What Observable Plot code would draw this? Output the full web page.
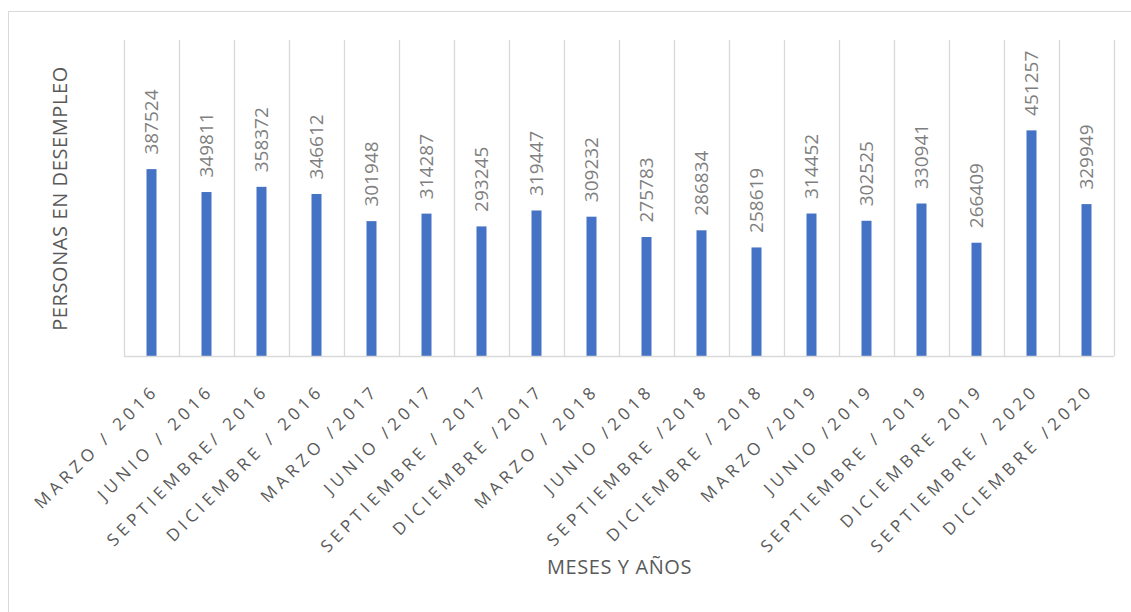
<!DOCTYPE html>
<html>
<head>
<meta charset="utf-8">
<script src="https://cdn.jsdelivr.net/npm/d3@7"></script>
<script src="https://cdn.jsdelivr.net/npm/@observablehq/plot@0.6"></script>
<style>
  html, body { margin: 0; padding: 0; background: #fff; }
  #wrap { position: relative; width: 1131px; height: 612px; overflow: hidden; }
  #frame { position: absolute; left: 8px; top: 11px; width: 1140px; height: 620px; border: 1px solid #d9d9d9; box-sizing: border-box; }
  #chart { position: absolute; left: 0; top: 0; }
</style>
</head>
<body>
<div id="wrap"><div id="frame"></div><div id="chart"></div></div>
<script>
const categories = ["MARZO / 2016","JUNIO / 2016","SEPTIEMBRE/ 2016","DICIEMBRE / 2016","MARZO /2017","JUNIO /2017","SEPTIEMBRE / 2017","DICIEMBRE /2017","MARZO / 2018","JUNIO /2018","SEPTIEMBRE /2018","DICIEMBRE / 2018","MARZO /2019","JUNIO /2019","SEPTIEMBRE / 2019","DICIEMBRE 2019","SEPTIEMBRE / 2020","DICIEMBRE /2020"];
const values = [387524,349811,358372,346612,301948,314287,293245,319447,309232,275783,286834,258619,314452,302525,330941,266409,451257,329949];
const yTitle = "PERSONAS EN DESEMPLEO";
const xTitle = "MESES Y AÑOS";
const yDomain = [80000, 600000];

const data = categories.map((c, i) => ({cat: c, value: values[i]}));

const W = 1131, H = 612, ML = 124, MR = 17, MT = 40, MB = 256;
const step = (W - ML - MR) / categories.length;
const font = "'Open Sans', sans-serif";

const chart = Plot.plot({
  width: W, height: H,
  marginLeft: ML, marginRight: MR, marginTop: MT, marginBottom: MB,
  style: {fontFamily: font, background: "transparent"},
  x: {domain: categories, padding: 0, axis: null},
  y: {domain: yDomain, clamp: true, axis: null},
  marks: [
    Plot.ruleX(categories, {x: d => d, dx: -step / 2, stroke: "#d9d9d9", strokeWidth: 1.3}),
    Plot.ruleX(categories.slice(-1), {x: d => d, dx: step / 2, stroke: "#d9d9d9", strokeWidth: 1.3}),
    Plot.barY(data, {x: "cat", y: "value", fill: "#4472c4", insetLeft: 22.5, insetRight: 22.5}),
    Plot.ruleY([0], {stroke: "#d9d9d9", strokeWidth: 1.5}),
    Plot.text(data, {x: "cat", y: "value", text: d => String(d.value), rotate: -90, textAnchor: "start", lineAnchor: "middle", dy: -15, fill: "#7f7f7f", fontSize: 19}),
    Plot.text(categories, {x: d => d, frameAnchor: "bottom", rotate: -45, textAnchor: "end", lineAnchor: "middle", dx: 4, dy: 31, fill: "#595959", fontSize: 17}),
    Plot.text([yTitle], {frameAnchor: "left", rotate: -90, textAnchor: "middle", dx: -64, fill: "#595959", fontSize: 20}),
    Plot.text([xTitle], {frameAnchor: "bottom", textAnchor: "middle", dy: 217, fill: "#595959", fontSize: 20})
  ]
});
// letter spacing for the text marks: category labels and axis titles
const textGroups = chart.querySelectorAll('g[aria-label="text"]');
if (textGroups[1]) textGroups[1].setAttribute("letter-spacing", "4.5px");
if (textGroups[2]) textGroups[2].setAttribute("letter-spacing", "0.6px");
if (textGroups[3]) textGroups[3].setAttribute("letter-spacing", "0.6px");
document.getElementById("chart").appendChild(chart);
</script>
</body>
</html>
